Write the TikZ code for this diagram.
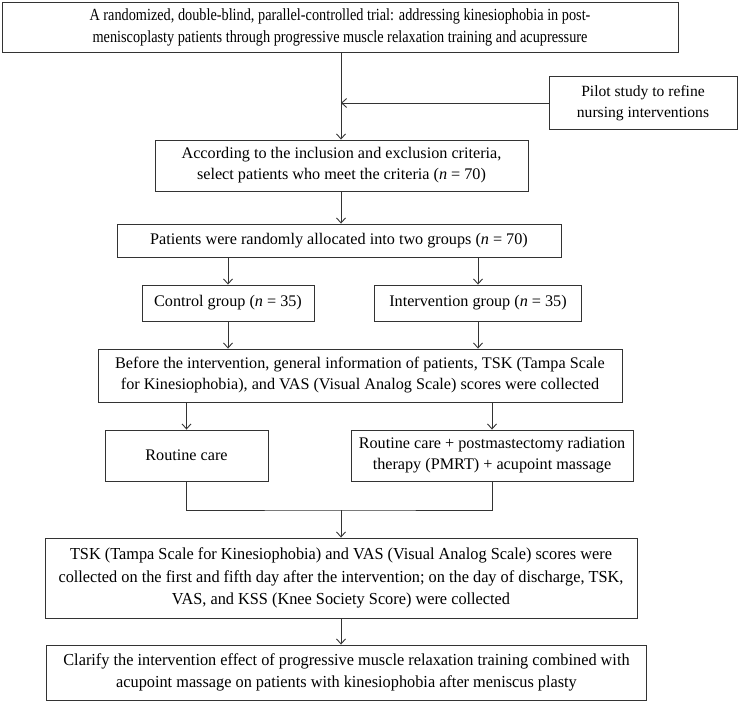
\documentclass[tikz,border=0pt]{standalone}
\usepackage{fontspec}
\setmainfont{Liberation Serif}
\newfontfamily\cond[FakeStretch=0.84]{Liberation Serif}
\newfontfamily\condb[FakeStretch=0.97]{Liberation Serif}
\usetikzlibrary{arrows.meta}
\begin{document}
\begin{tikzpicture}[x=1pt,y=-1pt,
  box/.style={draw=black!80, line width=0.9pt, align=center, inner sep=0pt, rectangle},
  conn/.style={draw=black!80, line width=0.9pt},
  arr/.style={conn, -{Straight Barb[length=5pt,width=9pt,line width=0.9pt]}},
  mainfont/.style={font=\fontsize{16.2}{21}\selectfont},
  pilotfont/.style={font=\fontsize{15.6}{21}\selectfont},
  condfont/.style={font=\cond\fontsize{17}{22}\selectfont},
  condbfont/.style={font=\condb\fontsize{16.8}{22.5}\selectfont}
]
\useasboundingbox (0,0) rectangle (739,701);
\node[box,condfont,minimum width=676pt,minimum height=50pt] (b1) at (340,27)
  {A randomized, double-blind, parallel-controlled trial: addressing kinesiophobia in post-\\meniscoplasty patients through progressive muscle relaxation training and acupressure};
\node[box,pilotfont,minimum width=188pt,minimum height=53pt] (pilot) at (643,103)
  {Pilot study to refine\\nursing interventions};
\node[box,mainfont,minimum width=373pt,minimum height=51pt] (b3) at (341.5,165.5)
  {According to the inclusion and exclusion criteria,\\select patients who meet the criteria (\textit{n} = 70)};
\node[box,mainfont,minimum width=444pt,minimum height=33pt] (b4) at (339,240.5)
  {Patients were randomly allocated into two groups (\textit{n} = 70)};
\node[box,mainfont,minimum width=172pt,minimum height=36pt] (ctrl) at (228,303)
  {Control group (\textit{n} = 35)};
\node[box,mainfont,minimum width=207pt,minimum height=36pt] (intv) at (478,303)
  {Intervention group (\textit{n} = 35)};
\node[box,mainfont,minimum width=524pt,minimum height=53pt] (before) at (360,375.5)
  {Before the intervention, general information of patients, TSK (Tampa Scale\\for Kinesiophobia), and VAS (Visual Analog Scale) scores were collected};
\node[box,mainfont,minimum width=163pt,minimum height=51pt] (rc) at (186.5,455.5)
  {Routine care};
\node[box,mainfont,minimum width=282pt,minimum height=51pt] (rcp) at (492,455.5)
  {Routine care + postmastectomy radiation\\therapy (PMRT) + acupoint massage};
\node[box,condbfont,minimum width=592pt,minimum height=80pt] (tsk) at (341,578)
  {TSK (Tampa Scale for Kinesiophobia) and VAS (Visual Analog Scale) scores were\\collected on the first and fifth day after the intervention; on the day of discharge, TSK,\\VAS, and KSS (Knee Society Score) were collected};
\node[box,condbfont,minimum width=600pt,minimum height=55pt] (clar) at (346.5,672.5)
  {Clarify the intervention effect of progressive muscle relaxation training combined with\\acupoint massage on patients with kinesiophobia after meniscus plasty};
\coordinate (m) at (341,510);
\draw[arr] (b1.south -| m) -- (b3.north -| m);
\draw[arr] (pilot.west) -- (pilot.west -| m);
\draw[arr] (b3.south -| m) -- (b4.north -| m);
\draw[arr] (ctrl.north |- b4.south) -- (ctrl.north);
\draw[arr] (intv.north |- b4.south) -- (intv.north);
\draw[arr] (ctrl.south) -- (ctrl.south |- before.north);
\draw[arr] (intv.south) -- (intv.south |- before.north);
\draw[arr] (rc.north |- before.south) -- (rc.north);
\draw[arr] (rcp.north |- before.south) -- (rcp.north);
\draw[conn] (rc.south) |- (m) -| (rcp.south);
\draw[arr] (m) -- (m |- tsk.north);
\draw[arr] (tsk.south -| m) -- (clar.north -| m);
\end{tikzpicture}
\end{document}
